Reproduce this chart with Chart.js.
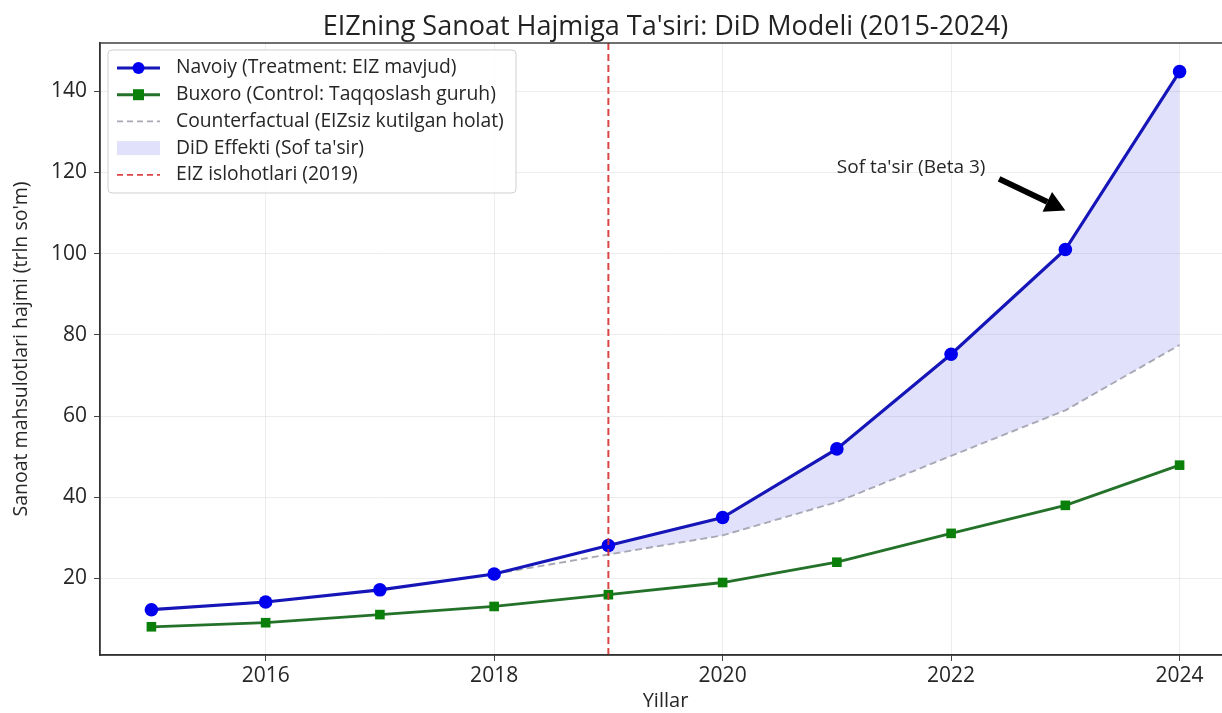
<!DOCTYPE html>
<html>
<head>
<meta charset="utf-8">
<script src="https://cdn.jsdelivr.net/npm/chart.js@4/dist/chart.umd.min.js"></script>
<style>
  html, body { margin: 0; padding: 0; background: #fff; overflow: hidden; }
  #wrap { width: 1240px; height: 713px; }
</style>
</head>
<body>
<div id="wrap"><canvas id="didChart" width="1240" height="713"></canvas></div>
<script>
// EIZ DiD grafigi: ma'lumotlar
const years = [2015, 2016, 2017, 2018, 2019, 2020, 2021, 2022, 2023, 2024];
const navoiy = [12.3, 14.2, 17.2, 21.1, 28.1, 35.0, 51.9, 75.2, 101.0, 144.8];
const buxoro = [8.1, 9.1, 11.1, 13.1, 16.0, 19.0, 24.0, 31.1, 38.0, 47.9];
const cfYears = [2018, 2019, 2020, 2021, 2022, 2023, 2024];
const counterfactual = [21.1, 25.9, 30.6, 38.8, 50.2, 61.4, 77.5];
const reformYear = 2019;
const xTicks = [2016, 2018, 2020, 2022, 2024];
const yTicks = [20, 40, 60, 80, 100, 120, 140];

const titleText = "EIZning Sanoat Hajmiga Ta'siri: DiD Modeli (2015-2024)";
const noteText = "Sof ta'sir (Beta 3)";
const notePos = [2021.0, 121.2];
const arrowFrom = [2022.42, 118.4];
const arrowTo = [2023.0, 110.6];

const FONT = "'Open Sans', 'DejaVu Sans', sans-serif";
const TXT = '#262626';

const pts = (xs, ys) => xs.map((x, i) => ({ x: x, y: ys[i] }));
const navoiyPts = pts(years, navoiy);
const buxoroPts = pts(years, buxoro);
const cfPts = pts(cfYears, counterfactual);
// DiD soha: islohotdan keyingi yillar
const fillTop = navoiyPts.filter(p => p.x >= reformYear);
const fillBase = cfPts.filter(p => p.x >= reformYear);

const legendItems = [
    { label: 'Navoiy (Treatment: EIZ mavjud)', kind: 'line', color: '#1515b8', marker: 'circle', mcolor: '#0000ee' },
    { label: 'Buxoro (Control: Taqqoslash guruh)', kind: 'line', color: '#24722a', marker: 'rect', mcolor: '#0a800a' },
    { label: 'Counterfactual (EIZsiz kutilgan holat)', kind: 'dash', color: '#a9a9b6' },
    { label: 'DiD Effekti (Sof ta\'sir)', kind: 'patch', color: 'rgba(120,120,240,0.22)' },
    { label: 'EIZ islohotlari (2019)', kind: 'dash', color: '#d94545' }
];

// Sarlavha, ramka, legend, vertikal chiziq va izoh
const decorPlugin = {
    id: 'decor',
    afterDatasetsDraw(chart) {
        const { ctx, chartArea: a, scales: { x, y } } = chart;
        ctx.save();

        // islohot chizig'i
        const rx = x.getPixelForValue(reformYear);
        ctx.strokeStyle = 'rgba(214,50,50,0.9)';
        ctx.lineWidth = 2;
        ctx.setLineDash([7, 4]);
        ctx.beginPath();
        ctx.moveTo(rx, a.top);
        ctx.lineTo(rx, a.bottom);
        ctx.stroke();
        ctx.setLineDash([]);

        // ramka
        ctx.strokeStyle = '#333';
        ctx.lineWidth = 1.4;
        ctx.strokeRect(a.left, a.top, a.right - a.left, a.bottom - a.top);

        // sarlavha
        ctx.fillStyle = '#222';
        ctx.font = '27px ' + FONT;
        ctx.textAlign = 'center';
        ctx.textBaseline = 'middle';
        ctx.fillText(titleText, (a.left + a.right) / 2, 27);

        // izoh matni
        ctx.font = '19px ' + FONT;
        ctx.textAlign = 'left';
        ctx.fillStyle = TXT;
        ctx.fillText(noteText, x.getPixelForValue(notePos[0]), y.getPixelForValue(notePos[1]));

        // strelka
        const x0 = x.getPixelForValue(arrowFrom[0]), y0 = y.getPixelForValue(arrowFrom[1]);
        const x1 = x.getPixelForValue(arrowTo[0]), y1 = y.getPixelForValue(arrowTo[1]);
        const ang = Math.atan2(y1 - y0, x1 - x0);
        const headLen = 20, headW = 11;
        const bx = x1 - headLen * Math.cos(ang), by = y1 - headLen * Math.sin(ang);
        ctx.strokeStyle = '#000';
        ctx.fillStyle = '#000';
        ctx.lineWidth = 6;
        ctx.beginPath();
        ctx.moveTo(x0, y0);
        ctx.lineTo(bx, by);
        ctx.stroke();
        ctx.beginPath();
        ctx.moveTo(x1, y1);
        ctx.lineTo(bx + headW * Math.sin(ang), by - headW * Math.cos(ang));
        ctx.lineTo(bx - headW * Math.sin(ang), by + headW * Math.cos(ang));
        ctx.closePath();
        ctx.fill();

        // legend
        const lx = a.left + 8, ly = a.top + 7, lw = 408, lh = 143;
        ctx.fillStyle = 'rgba(255,255,255,0.85)';
        ctx.strokeStyle = '#cfcfcf';
        ctx.lineWidth = 1;
        ctx.beginPath();
        ctx.roundRect(lx, ly, lw, lh, 4);
        ctx.fill();
        ctx.stroke();
        ctx.font = '19.3px ' + FONT;
        ctx.textBaseline = 'middle';
        legendItems.forEach((it, i) => {
            const cy = ly + 18 + i * 26.7;
            const hx0 = lx + 9, hx1 = lx + 52;
            if (it.kind === 'patch') {
                ctx.fillStyle = it.color;
                ctx.fillRect(hx0, cy - 7, hx1 - hx0, 14);
            } else {
                ctx.strokeStyle = it.color;
                ctx.lineWidth = it.kind === 'dash' ? 1.8 : 3;
                ctx.setLineDash(it.kind === 'dash' ? [6, 4] : []);
                ctx.beginPath();
                ctx.moveTo(hx0, cy);
                ctx.lineTo(hx1, cy);
                ctx.stroke();
                ctx.setLineDash([]);
                if (it.marker) {
                    const mx = (hx0 + hx1) / 2;
                    ctx.fillStyle = it.mcolor;
                    ctx.beginPath();
                    if (it.marker === 'circle') ctx.arc(mx, cy, 6, 0, Math.PI * 2);
                    else ctx.rect(mx - 5.5, cy - 5.5, 11, 11);
                    ctx.fill();
                }
            }
            ctx.fillStyle = TXT;
            ctx.fillText(it.label, lx + 68, cy);
        });

        ctx.restore();
    }
};

const ctx = document.getElementById('didChart').getContext('2d');
new Chart(ctx, {
    type: 'line',
    data: {
        datasets: [
            {
                label: 'Navoiy',
                data: navoiyPts,
                borderColor: '#1515b8',
                backgroundColor: '#0000ee',
                borderWidth: 3.2,
                pointRadius: 6.8,
                pointBorderWidth: 0,
                pointStyle: 'circle',
                order: 1
            },
            {
                label: 'Buxoro',
                data: buxoroPts,
                borderColor: '#24722a',
                backgroundColor: '#0a800a',
                borderWidth: 2.8,
                pointRadius: 6.8,
                pointBorderWidth: 0,
                pointStyle: 'rect',
                order: 2
            },
            {
                label: 'Counterfactual',
                data: cfPts,
                borderColor: '#a9a9b6',
                borderWidth: 1.9,
                borderDash: [7, 4],
                pointRadius: 0,
                order: 3
            },
            {
                label: 'DiD base',
                data: fillBase,
                borderWidth: 0,
                pointRadius: 0,
                showLine: false,
                order: 5
            },
            {
                label: 'DiD Effekti',
                data: fillTop,
                borderWidth: 0,
                pointRadius: 0,
                backgroundColor: 'rgba(120,120,240,0.22)',
                fill: { target: 3 },
                order: 4
            }
        ]
    },
    options: {
        responsive: false,
        animation: false,
        layout: { padding: { left: 0, right: 9, top: 43, bottom: 0 } },
        plugins: {
            legend: { display: false },
            title: { display: false },
            tooltip: { enabled: false },
            filler: { drawTime: 'beforeDatasetsDraw' }
        },
        scales: {
            x: {
                type: 'linear',
                min: 2014.55,
                max: 2024.45,
                afterBuildTicks: s => { s.ticks = xTicks.map(v => ({ value: v })); },
                afterFit: s => { s.height = 58; },
                ticks: {
                    callback: v => String(v),
                    font: { family: FONT, size: 21 },
                    color: TXT,
                    padding: 2,
                    maxRotation: 0
                },
                grid: { color: 'rgba(0,0,0,0.07)', tickColor: '#444', tickLength: 6 },
                border: { color: '#333', width: 1.4 },
                title: {
                    display: true,
                    text: 'Yillar',
                    font: { family: FONT, size: 20 },
                    color: TXT,
                    padding: { top: 0, bottom: 0 }
                }
            },
            y: {
                type: 'linear',
                min: 1.15,
                max: 151.85,
                afterBuildTicks: s => { s.ticks = yTicks.map(v => ({ value: v })); },
                afterFit: s => { s.width = 100; },
                ticks: {
                    font: { family: FONT, size: 21 },
                    color: TXT,
                    padding: 7
                },
                grid: { color: 'rgba(0,0,0,0.07)', tickColor: '#444', tickLength: 6 },
                border: { color: '#333', width: 1.4 },
                title: {
                    display: true,
                    text: "Sanoat mahsulotlari hajmi (trln so'm)",
                    font: { family: FONT, size: 19.5 },
                    color: TXT,
                    padding: { top: 10, bottom: 0 }
                }
            }
        }
    },
    plugins: [decorPlugin]
});
</script>
</body>
</html>
